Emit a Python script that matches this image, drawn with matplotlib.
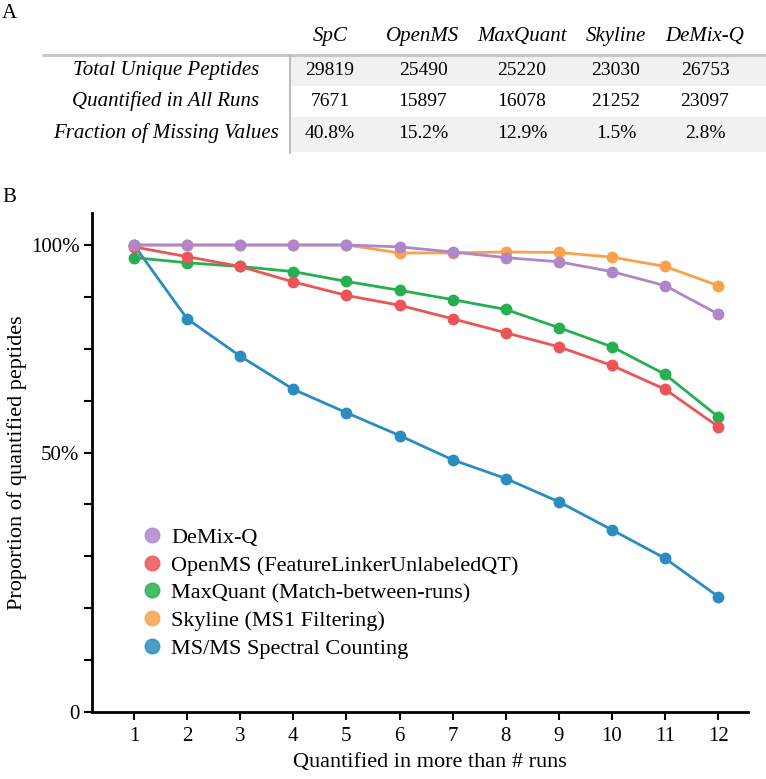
import numpy as np
import matplotlib
matplotlib.use('Agg')
import matplotlib.pyplot as plt
from matplotlib.lines import Line2D
from matplotlib.patches import Rectangle

# ---- data ----
tools = ['SpC', 'OpenMS', 'MaxQuant', 'Skyline', 'DeMix-Q']
row_names = ['Total Unique Peptides', 'Quantified in All Runs', 'Fraction of Missing Values']
total_unique = [29819, 25490, 25220, 23030, 26753]
quant_all = [7671, 15897, 16078, 21252, 23097]
missing_frac = [40.8, 15.2, 12.9, 1.5, 2.8]

runs = np.arange(1, 13)
demix = [100, 100, 100, 100, 100, 99.6, 98.5, 97.3, 96.4, 94.3, 91.3, 85.2]
openms = [99.6, 97.5, 95.4, 92.1, 89.2, 87.1, 84.2, 81.2, 78.2, 74.2, 69.1, 61.1]
maxquant = [97.3, 96.2, 95.4, 94.3, 92.2, 90.3, 88.3, 86.2, 82.3, 78.2, 72.3, 63.2]
skyline = [100, 100, 100, 100, 100, 98.3, 98.3, 98.5, 98.4, 97.4, 95.4, 91.3]
spc = [100, 84.2, 76.2, 69.1, 64.1, 59.2, 54.0, 50.0, 45.0, 39.0, 32.9, 24.7]

labels = ['DeMix-Q', 'OpenMS (FeatureLinkerUnlabeledQT)', 'MaxQuant (Match-between-runs)',
          'Skyline (MS1 Filtering)', 'MS/MS Spectral Counting']
colors = ['#ae86c9', '#ec5457', '#25af50', '#f9a24b', '#2a8cc0']

plt.rcParams['font.family'] = ['Liberation Serif', 'DejaVu Serif']

W, H = 766, 779
fig = plt.figure(figsize=(W / 100, H / 100), dpi=100)

# ---- panel A: table, drawn in pixel-like coords ----
tab = fig.add_axes([0, 0, 1, 1], zorder=0)
tab.set_xlim(0, W)
tab.set_ylim(H, 0)
tab.axis('off')

col_x = [330, 423, 522, 616, 705]
row_y = [70, 101, 133]
label_x = 166

tab.text(2, 13, 'A', fontsize=15, va='center', ha='left')
tab.text(2, 197, 'B', fontsize=15, va='center', ha='left')

# shaded rows 1 and 3
tab.add_patch(Rectangle((290, 56), W - 290, 30, color='#f1f1f1', lw=0))
tab.add_patch(Rectangle((290, 117), W - 290, 35, color='#f1f1f1', lw=0))
tab.plot([42, W], [55, 55], color='#c8c8c8', lw=2.2, solid_capstyle='butt')
tab.plot([290, 290], [56, 153], color='#b0b0b0', lw=1.2)

for x, name in zip(col_x, tools):
    tab.text(x, 36, name, fontsize=15, style='italic', ha='center', va='center')

cells = [[str(v) for v in total_unique],
         [str(v) for v in quant_all],
         ['%.1f%%' % v for v in missing_frac]]
for y, name, row in zip(row_y, row_names, cells):
    tab.text(label_x, y, name, fontsize=15, style='italic', ha='center', va='center')
    for x, s in zip(col_x, row):
        tab.text(x, y, s, fontsize=14, ha='center', va='center')

# ---- panel B: line chart ----
ax = fig.add_axes([92 / W, 1 - 712 / H, (748 - 92) / W, (712 - 213) / H], zorder=1)
ax.patch.set_alpha(0)

series = [demix, openms, maxquant, skyline, spc]
# draw order: spectral counting at the bottom, DeMix-Q on top
order = [4, 2, 1, 3, 0]
for i in order:
    ax.plot(runs, series[i], color=colors[i], lw=2, marker='o', ms=7.5,
            zorder=2 + order.index(i))

ax.set_xlim(0.21, 12.56)
ax.set_ylim(0, 100 * (712 - 213) / (712 - 245))
ax.set_xticks(runs)
yt = np.linspace(0, 100, 10)
ax.set_yticks(yt)
ax.set_yticklabels(['0', '', '', '', '', '50%', '', '', '', '100%'])

for s in ['top', 'right']:
    ax.spines[s].set_visible(False)
for s in ['left', 'bottom']:
    ax.spines[s].set_linewidth(2)
ax.tick_params(axis='both', direction='out', length=6, width=1.5, labelsize=15)
ax.tick_params(axis='x', pad=5)
ax.tick_params(axis='y', pad=3)

ax.set_xlabel('Quantified in more than # runs', fontsize=16, labelpad=4)
ax.xaxis.set_label_coords(0.515, -0.082)
ax.set_ylabel('Proportion of quantified peptides', fontsize=16, labelpad=3)

handles = [Line2D([], [], ls='none', marker='o', ms=10.5, color=c, alpha=0.85) for c in colors]
ax.legend(handles, labels, loc='upper left', bbox_to_anchor=(0.075, 0.37), frameon=False,
          fontsize=16, handletextpad=0.35, labelspacing=0.32, handlelength=1.0,
          borderaxespad=0, borderpad=0)

plt.savefig('out.png', dpi=100)
